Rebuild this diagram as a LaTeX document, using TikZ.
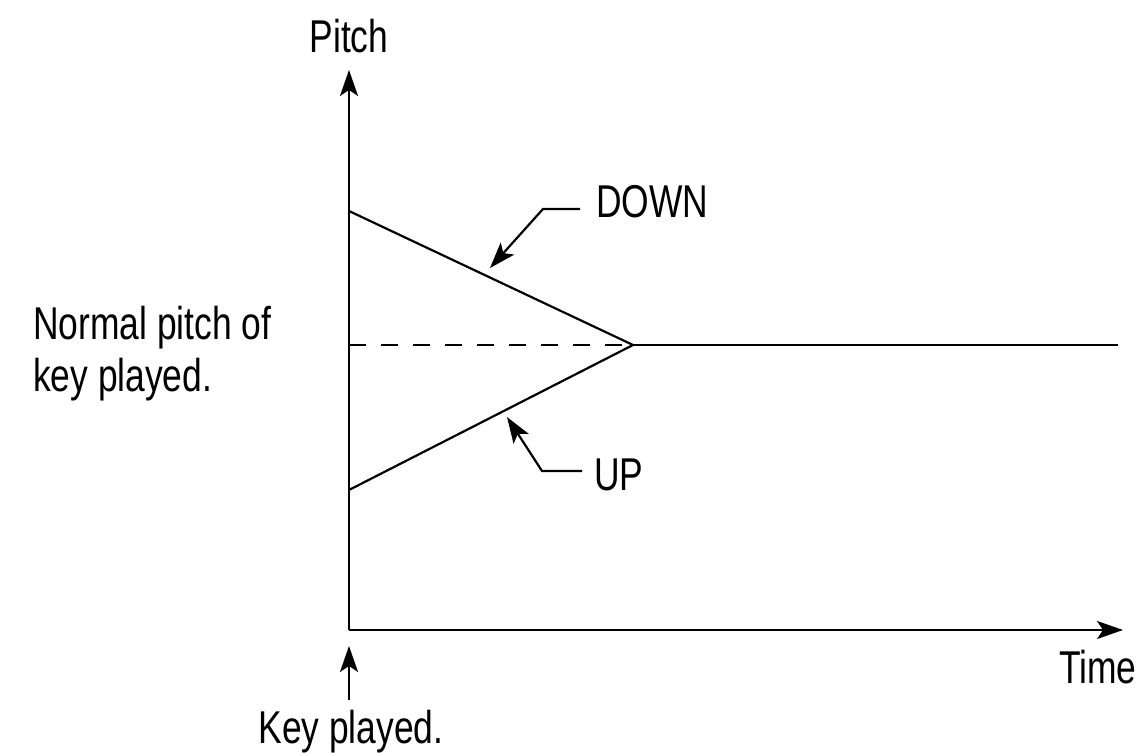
\documentclass[tikz,border=0pt]{standalone}
\usepackage{fontspec}
\setmainfont{Liberation Sans}[FakeStretch=0.77]
\usetikzlibrary{arrows.meta}

\begin{document}
\begin{tikzpicture}[x=0.5pt, y=-0.5pt, line width=1.1pt,
    tip/.style={-{Stealth[length=13pt, width=9pt, inset=3pt]}},
    lbl/.style={font=\fontsize{23}{26}\selectfont, inner sep=0pt}]
    \useasboundingbox (0,0) rectangle (1147,754);

    % axes
    \coordinate (O) at (349,630);
    \coordinate (ytop) at (349,70);
    \coordinate (xend) at (1123,630);
    \draw[tip] (O) -- (ytop);
    \draw[tip] (O) -- (xend);

    % pitch curves
    \coordinate (hi) at (349,211);
    \coordinate (lo) at (349,490);
    \coordinate (mid) at (349,345);
    \coordinate (meet) at (633,345);
    \coordinate (far) at (1118,345);
    \draw (hi) -- (meet);
    \draw (lo) -- (meet);
    \draw[line width=0.8pt, dash pattern=on 8.5pt off 7.5pt] (mid) -- (meet);
    \draw (meet) -- (far);

    % labels
    \node[lbl, anchor=base] (pitch) at (349,53) {Pitch};
    \node[lbl, anchor=base west] (time) at (1058,683) {Time};
    \node[lbl, anchor=base west] (down) at (595,218) {DOWN};
    \node[lbl, anchor=base west] (up) at (593,490) {UP};
    \node[lbl, anchor=base west] (norm1) at (32,340) {Normal pitch of};
    \node[lbl, anchor=base west] (norm2) at (32,392) {key played.};
    \node[lbl, anchor=base] (key) at (351,743) {Key played.};

    % leaders
    \coordinate (dknee) at (543,209);
    \coordinate (dtip) at (490,268);
    \draw[tip] (down.west |- dknee) ++(-15,0) -- (dknee) -- (dtip);
    \coordinate (uknee) at (542,471);
    \coordinate (utip) at (507,417);
    \draw[tip] (up.west |- uknee) ++(-11,0) -- (uknee) -- (utip);
    \coordinate (kbot) at (349,700);
    \coordinate (ktip) at (349,646);
    \draw[tip] (kbot) -- (ktip);
\end{tikzpicture}
\end{document}
